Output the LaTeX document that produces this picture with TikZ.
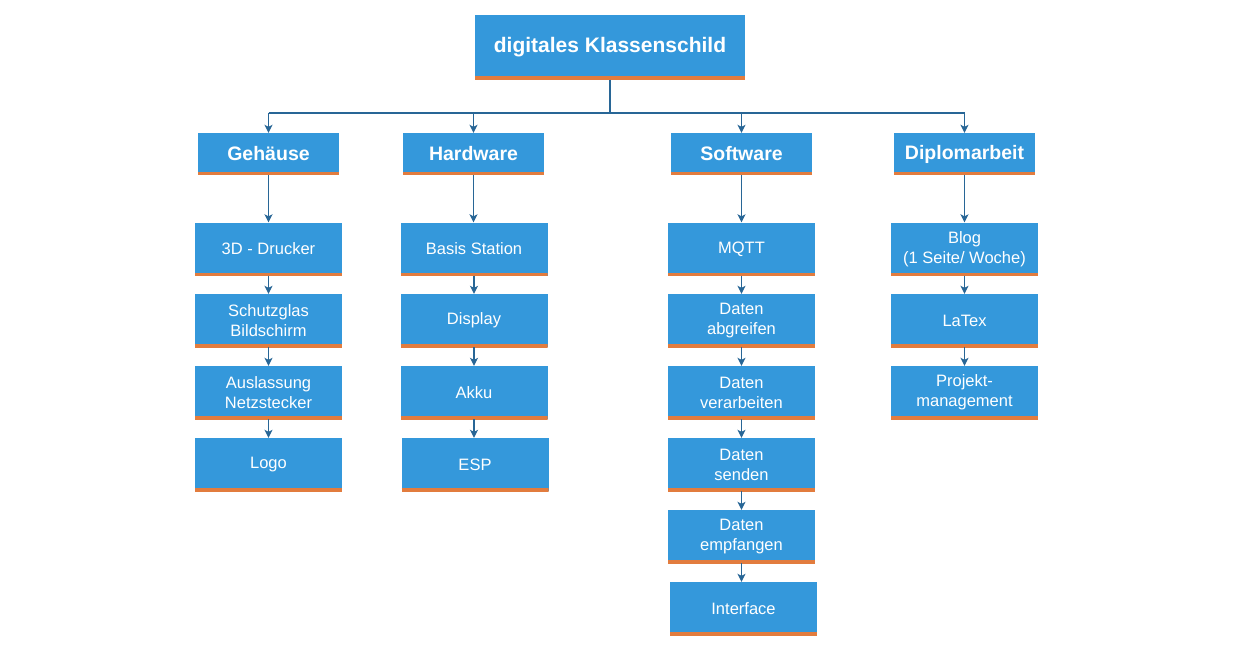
\documentclass[tikz,border=0pt]{standalone}
\usepackage{fontspec}
\setmainfont{Liberation Sans}
\usetikzlibrary{arrows.meta}
\definecolor{boxblue}{RGB}{52,152,219}
\definecolor{barorange}{RGB}{226,124,62}
\definecolor{linkblue}{RGB}{40,102,150}
\tikzset{
  box/.style={rectangle, fill=boxblue, text=white, inner sep=0pt, align=center,
    path picture={\draw[barorange,line width=6pt] (path picture bounding box.south west) -- (path picture bounding box.south east);}},
  topbox/.style={box, minimum width=270pt, minimum height=64pt, font=\bfseries\fontsize{21}{25}\selectfont},
  catbox/.style={box, minimum width=141pt, minimum height=42pt, font=\bfseries\fontsize{19.5}{23}\selectfont},
  itembox/.style={box, minimum width=147pt, minimum height=53pt, font=\fontsize{16.5}{20}\selectfont},
  link/.style={draw=linkblue, line width=1.2pt, -{Stealth[length=8pt,width=8pt,inset=2pt]}},
  plain/.style={draw=linkblue, line width=1.2pt}
}
\begin{document}
\begin{tikzpicture}[x=1pt,y=-1pt]
\useasboundingbox (0,0) rectangle (1246,663);
\node[topbox] (root) at (610,47.5) {digitales Klassenschild};
\node[catbox] (g) at (268.5,154) {Gehäuse};
\node[catbox] (h) at (473.5,154) {Hardware};
\node[catbox] (s) at (741.5,154) {Software};
\node[catbox] (d) at (964.5,154) {Diplomarbeit};
% Gehaeuse column
\node[itembox] (g1) at (268.5,249) {3D - Drucker};
\node[itembox] (g2) at (268.5,320.5) {Schutzglas\\Bildschirm};
\node[itembox] (g3) at (268.5,392.5) {Auslassung\\Netzstecker};
\node[itembox] (g4) at (268.5,464.5) {Logo};
% Hardware column
\node[itembox] (h1) at (474,249) {Basis Station};
\node[itembox] (h2) at (474,320.5) {Display};
\node[itembox] (h3) at (474,392.5) {Akku};
\node[itembox] (h4) at (475,464.5) {ESP};
% Software column
\node[itembox] (s1) at (741.5,249) {MQTT};
\node[itembox] (s2) at (741.5,320.5) {Daten\\abgreifen};
\node[itembox] (s3) at (741.5,392.5) {Daten\\verarbeiten};
\node[itembox] (s4) at (741.5,464.5) {Daten\\senden};
\node[itembox] (s5) at (741.5,536.5) {Daten\\empfangen};
\node[itembox] (s6) at (743.5,608.5) {Interface};
% Diplomarbeit column
\node[itembox] (d1) at (964.5,249) {Blog\\(1 Seite/ Woche)};
\node[itembox] (d2) at (964.5,320.5) {LaTex};
\node[itembox] (d3) at (964.5,392.5) {Projekt-\\management};
% root to categories
\coordinate (bus) at (610,113);
\path[plain] (root.south) -- (bus);
\path[plain] (g.north |- bus) -- (d.north |- bus);
\foreach \c in {g,h,s,d} { \path[link] (\c.north |- bus) -- (\c.north); }
% category to first item
\path[link] (g.south) -- (g.south |- g1.north);
\path[link] (h.south) -- (h.south |- h1.north);
\path[link] (s.south) -- (s.south |- s1.north);
\path[link] (d.south) -- (d.south |- d1.north);
% chains
\path[link] (g1.south) -- (g1.south |- g2.north);
\path[link] (g2.south) -- (g2.south |- g3.north);
\path[link] (g3.south) -- (g3.south |- g4.north);
\path[link] (h1.south) -- (h1.south |- h2.north);
\path[link] (h2.south) -- (h2.south |- h3.north);
\path[link] (h3.south) -- (h3.south |- h4.north);
\path[link] (s1.south) -- (s1.south |- s2.north);
\path[link] (s2.south) -- (s2.south |- s3.north);
\path[link] (s3.south) -- (s3.south |- s4.north);
\path[link] (s4.south) -- (s4.south |- s5.north);
\path[link] (s5.south) -- (s5.south |- s6.north);
\path[link] (d1.south) -- (d1.south |- d2.north);
\path[link] (d2.south) -- (d2.south |- d3.north);
\end{tikzpicture}
\end{document}
